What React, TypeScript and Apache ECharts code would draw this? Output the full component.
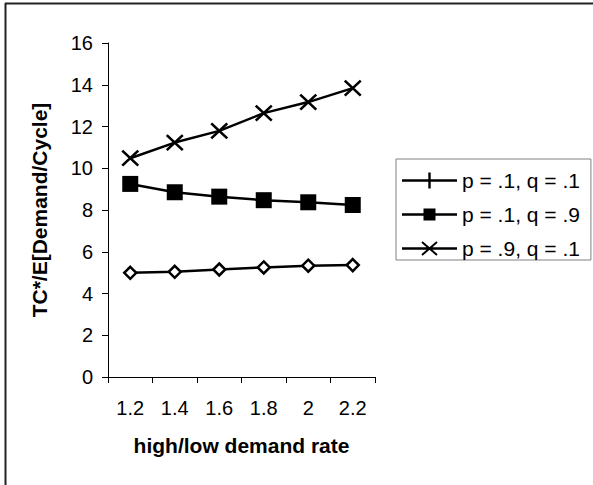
import React, { useEffect, useRef } from 'react';
import * as echarts from 'echarts';

const categories = ['1.2', '1.4', '1.6', '1.8', '2', '2.2'];
const seriesNames = ['p = .1, q = .1', 'p = .1, q = .9', 'p = .9, q = .1'];
const diamondValues = [4.99, 5.04, 5.15, 5.25, 5.33, 5.36];
const squareValues = [9.25, 8.85, 8.64, 8.47, 8.37, 8.24];
const crossValues = [10.48, 11.23, 11.79, 12.64, 13.17, 13.84];
const yMin = 0;
const yMax = 16;
const yInterval = 2;

const FONT = '"Liberation Sans", Arial, sans-serif';

const corners = 'M0,0L0.01,0L0,0.01Z M55,16L54.99,16L55,15.99Z ';
const legendLine = 'M0,6.8H55V9.2H0Z ';
const iconPlus = 'path://' + corners + legendLine + 'M26.3,0H28.7V16H26.3Z';
const iconSquare = 'path://' + corners + legendLine + 'M21.5,2H33.5V14H21.5Z';
const iconCross =
  'path://' + corners + legendLine +
  'M20.65,0.75L35.65,13.75L34.35,15.25L19.35,2.25Z M35.65,2.25L20.65,15.25L19.35,13.75L34.35,0.75Z';

export default function App() {
  const ref = useRef<HTMLDivElement>(null);
  useEffect(() => {
    document.body.style.margin = '0';
    const chart = echarts.init(ref.current!, null, { renderer: 'svg' });
    chart.setOption({
      animation: false,
      backgroundColor: '#fff',
      textStyle: { fontFamily: FONT, color: '#000' },
      graphic: [
        {
          type: 'line',
          shape: { x1: 5, y1: 3.5, x2: 593, y2: 3.5 },
          style: { stroke: '#222', lineWidth: 2 },
          silent: true,
        },
        {
          type: 'line',
          shape: { x1: 5.5, y1: 3, x2: 5.5, y2: 485 },
          style: { stroke: '#222', lineWidth: 2 },
          silent: true,
        },
      ],
      grid: { left: 108, top: 43, right: 218, bottom: 108, containLabel: false },
      legend: {
        orient: 'vertical',
        left: 396,
        top: 159,
        itemWidth: 55,
        itemHeight: 16,
        itemGap: 13,
        padding: [11, 11, 1, 6],
        borderColor: '#808080',
        borderWidth: 1,
        backgroundColor: '#fff',
        itemStyle: { color: '#000', borderWidth: 0 },
        textStyle: { fontFamily: FONT, fontSize: 21, color: '#000' },
        data: [
          { name: seriesNames[0], icon: iconPlus },
          { name: seriesNames[1], icon: iconSquare },
          { name: seriesNames[2], icon: iconCross },
        ],
      },
      xAxis: {
        type: 'category',
        data: categories,
        boundaryGap: true,
        name: 'high/low demand rate',
        nameLocation: 'middle',
        nameGap: 58,
        nameTextStyle: { fontFamily: FONT, fontSize: 21, fontWeight: 'bold', color: '#000' },
        axisLine: { show: true, lineStyle: { color: '#000', width: 1 } },
        axisTick: { show: true, inside: false, length: 6, alignWithLabel: false, lineStyle: { color: '#000' } },
        axisLabel: { margin: 21, fontFamily: FONT, fontSize: 20, color: '#000' },
        splitLine: { show: false },
      },
      yAxis: {
        type: 'value',
        min: yMin,
        max: yMax,
        interval: yInterval,
        name: 'TC*/E[Demand/Cycle]',
        nameLocation: 'middle',
        nameRotate: 90,
        nameGap: 58,
        nameTextStyle: { fontFamily: FONT, fontSize: 21, fontWeight: 'bold', color: '#000' },
        axisLine: { show: true, lineStyle: { color: '#000', width: 1 } },
        axisTick: { show: true, inside: false, length: 6, lineStyle: { color: '#000' } },
        axisLabel: { margin: 15, fontFamily: FONT, fontSize: 20, color: '#000' },
        splitLine: { show: false },
      },
      series: [
        {
          name: seriesNames[0],
          type: 'line',
          data: diamondValues,
          symbol: 'diamond',
          symbolSize: 12,
          showAllSymbol: true,
          lineStyle: { color: '#000', width: 2.5 },
          itemStyle: { color: '#fff', borderColor: '#000', borderWidth: 2.5 },
        },
        {
          name: seriesNames[1],
          type: 'line',
          data: squareValues,
          symbol: 'rect',
          symbolSize: 16,
          showAllSymbol: true,
          lineStyle: { color: '#000', width: 2.5 },
          itemStyle: { color: '#000', borderColor: '#000', borderWidth: 0 },
        },
        {
          name: seriesNames[2],
          type: 'line',
          data: crossValues,
          symbol: 'path://M0,0L10,10M10,0L0,10',
          symbolSize: [16, 15],
          showAllSymbol: true,
          lineStyle: { color: '#000', width: 2.5 },
          itemStyle: { color: '#000', borderColor: '#000', borderWidth: 2.5 },
        },
      ],
    });
    return () => chart.dispose();
  }, []);
  return <div ref={ref} style={{ width: 593, height: 485 }} />;
}
